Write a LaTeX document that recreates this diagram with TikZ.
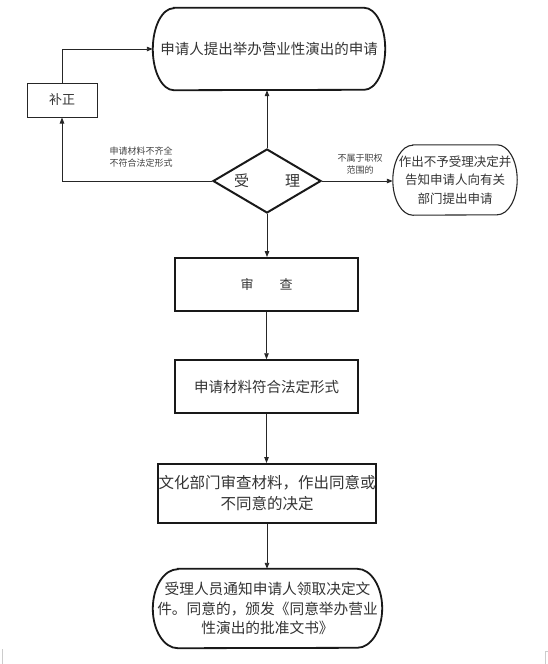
\documentclass[tikz,border=0pt]{standalone}
\usepackage{fontspec}
\setmainfont{Noto Sans CJK SC}
\usetikzlibrary{arrows.meta,shapes.geometric}
\newcommand\myfs[2]{\fontsize{#1}{#2}\selectfont}
\newcommand\termoutline[4]{\draw[#4] ([xshift=#2]#1.north west) -- ([xshift=-#2]#1.north east) arc[start angle=90,end angle=-90,x radius=#2,y radius=#3] -- ([xshift=#2]#1.south west) arc[start angle=270,end angle=90,x radius=#2,y radius=#3] -- cycle;}
\begin{document}
\begin{tikzpicture}[x=1pt,y=-1pt,
  conn/.style={line width=0.9pt, draw=black!85, -{Triangle[length=6pt,width=4.5pt]}},
  termbase/.style={rectangle, inner sep=0pt, draw=none, text=black!80, align=center},
  boxthick/.style={rectangle, draw=black!90, line width=1.9pt, inner sep=0pt, text=black!80, align=center},
  boxmed/.style={rectangle, draw=black!90, line width=1.5pt, inner sep=0pt, text=black!80, align=center},
  boxthin/.style={rectangle, draw=black!85, line width=1pt, inner sep=0pt, text=black!80, align=center},
  lbl/.style={text=black!75, align=center, inner sep=0pt, font=\myfs{9}{12}}
]
\useasboundingbox (0,0) rectangle (548,664);

% top terminator
\node[termbase, minimum width=232pt, minimum height=82pt, font=\myfs{14.5}{18}] (top) at (269,49) {申请人提出举办营业性演出的申请};
\termoutline{top}{21pt}{41pt}{line width=1.8pt, black!90}

% 补正
\node[boxthin, minimum width=70pt, minimum height=34pt, font=\myfs{13}{15}] (bz) at (62,100) {补正};

% diamond
\node[diamond, draw=black!90, line width=2pt, minimum width=108pt, minimum height=64pt, inner sep=0pt] (d) at (267,181) {};
\node[text=black!80, inner sep=0pt, font=\myfs{15}{18}] (dt) at (d.center) {受\hspace{36pt}理};

% right terminator
\node[termbase, minimum width=124pt, minimum height=70pt, font=\myfs{12.5}{18.5}] (r) at (455,180) {作出不予受理决定并\\告知申请人向有关\\部门提出申请};
\termoutline{r}{20pt}{35pt}{line width=1.1pt, black!85}

% labels
\node[lbl] (l1) at (141,157.5) {申请材料不齐全\\不符合法定形式};
\node[lbl] (l2) at (360,164) {不属于职权\\范围的};

% boxes
\node[boxthick, minimum width=183pt, minimum height=53pt, font=\myfs{13}{15}] (sc) at (266.5,284.5) {审\hspace{26pt}查};
\node[boxmed, minimum width=183pt, minimum height=53pt, font=\myfs{14.5}{18}] (cl) at (266.5,386.5) {申请材料符合法定形式};
\node[boxthick, minimum width=218pt, minimum height=59pt, font=\myfs{15.5}{21}] (wh) at (267,493.5) {文化部门审查材料，作出同意或\\不同意的决定};

% bottom terminator
\node[termbase, minimum width=229pt, minimum height=79pt, font=\myfs{14.7}{19.5}] (bt) at (267.5,608.5) {受理人员通知申请人领取决定文\\件。同意的，颁发《同意举办营业\\性演出的批准文书》};
\termoutline{bt}{25pt}{39.5pt}{line width=1.8pt, black!90}

% connectors
\draw[conn] (bz.north) |- (top.west);
\draw[conn] (d.west) -| (bz.south);
\draw[conn] (d.east) -- (d.east -| r.west);
\draw[conn] (d.north) -- (d.north |- top.south);
\draw[conn] (d.south) -- (d.south |- sc.north);
\draw[conn] (sc.south) -- (cl.north);
\draw[conn] (cl.south) -- (cl.south |- wh.north);
\draw[conn] (wh.south) -- (wh.south |- bt.north);

% page corner marks
\draw[gray!40, line width=0.6pt] (2.5,649) -- (2.5,664);
\draw[gray!40, line width=0.6pt] (548,651) -- (545.5,651) -- (545.5,664);
\end{tikzpicture}
\end{document}
